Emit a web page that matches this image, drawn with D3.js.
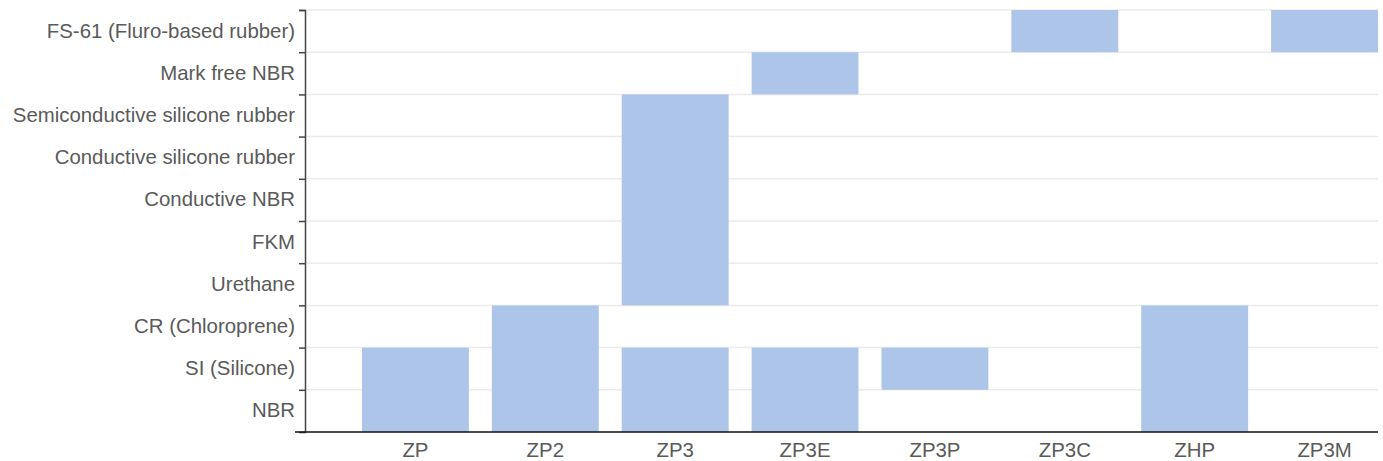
<!DOCTYPE html>
<html>
<head>
    <title>Materials by model</title>
    <script src="https://cdn.jsdelivr.net/npm/d3@7"></script>
    <style>
        body { margin: 0; background: #fff; }
        .label text {
            font-family: "Liberation Sans", Arial, sans-serif;
            font-size: 20.4px;
            fill: #5a5a5a;
        }
        .grid line { stroke: #ebebeb; stroke-width: 1.5px; }
        .bar { fill: #adc5e9; }
    </style>
</head>
<body>
    <div id="chart"></div>

    <script>
        // Models along the x axis
        var models = ["ZP", "ZP2", "ZP3", "ZP3E", "ZP3P", "ZP3C", "ZHP", "ZP3M"];

        // Materials, bottom to top
        var materials = ["NBR", "SI (Silicone)", "CR (Chloroprene)", "Urethane", "FKM",
            "Conductive NBR", "Conductive silicone rubber", "Semiconductive silicone rubber",
            "Mark free NBR", "FS-61 (Fluro-based rubber)"];

        // Each bar covers the materials from segFrom to segTo for one model
        var segModel = ["ZP", "ZP2", "ZP3", "ZP3", "ZP3E", "ZP3E", "ZP3P", "ZP3C", "ZHP", "ZP3M"];
        var segFrom = ["NBR", "NBR", "NBR", "Urethane", "NBR", "Mark free NBR", "SI (Silicone)",
            "FS-61 (Fluro-based rubber)", "NBR", "FS-61 (Fluro-based rubber)"];
        var segTo = ["SI (Silicone)", "CR (Chloroprene)", "SI (Silicone)", "Semiconductive silicone rubber",
            "SI (Silicone)", "Mark free NBR", "SI (Silicone)", "FS-61 (Fluro-based rubber)",
            "CR (Chloroprene)", "FS-61 (Fluro-based rubber)"];

        var width = 1383, height = 461;
        var plotLeft = 305, plotRight = 1378, plotTop = 10, plotBottom = 432;

        var svg = d3.select("#chart").append("svg")
            .attr("width", width)
            .attr("height", height);

        var x = d3.scaleBand()
            .domain(models)
            .range([350.5, 1389.5])
            .paddingInner(0.177)
            .paddingOuter(0.0885);

        var y = d3.scaleBand()
            .domain(materials)
            .range([plotBottom, plotTop]);

        // boundaries between rows
        var yEdge = d3.scaleLinear()
            .domain([0, materials.length])
            .range([plotBottom, plotTop]);

        // grid lines
        svg.append("g")
            .attr("class", "grid")
            .selectAll("line")
            .data(d3.range(1, materials.length + 1))
            .enter().append("line")
            .attr("x1", plotLeft)
            .attr("x2", plotRight)
            .attr("y1", d => yEdge(d))
            .attr("y2", d => yEdge(d));

        var segs = segModel.map((m, i) => ({ model: m, from: segFrom[i], to: segTo[i] }));

        svg.selectAll(".bar")
            .data(segs)
            .enter().append("rect")
            .attr("class", "bar")
            .attr("x", d => x(d.model))
            .attr("width", x.bandwidth())
            .attr("y", d => y(d.to))
            .attr("height", d => y(d.from) + y.bandwidth() - y(d.to));

        // y axis ticks at row boundaries
        svg.append("g")
            .attr("transform", "translate(" + plotLeft + ",0)")
            .call(d3.axisLeft(yEdge).tickValues(d3.range(1, materials.length + 1)).tickSize(6).tickFormat(""))
            .call(g => g.selectAll("line").attr("stroke", "#444").attr("stroke-width", 1.5))
            .call(g => g.select(".domain").attr("stroke", "#444").attr("stroke-width", 1.5));

        // y labels
        svg.append("g")
            .attr("class", "label")
            .attr("transform", "translate(" + plotLeft + ",0)")
            .call(d3.axisLeft(y).tickSize(0).tickPadding(10))
            .call(g => g.select(".domain").remove())
            .call(g => g.selectAll("text").attr("font-size", null).attr("font-family", null));

        // x axis
        svg.append("line")
            .attr("x1", 295)
            .attr("x2", plotRight)
            .attr("y1", plotBottom)
            .attr("y2", plotBottom)
            .attr("stroke", "#111")
            .attr("stroke-width", 1.5);

        svg.append("g")
            .attr("class", "label")
            .attr("transform", "translate(0," + plotBottom + ")")
            .call(d3.axisBottom(x).tickSize(0).tickPadding(11))
            .call(g => g.select(".domain").remove())
            .call(g => g.selectAll("text").attr("font-size", null).attr("font-family", null));
    </script>
</body>
</html>
